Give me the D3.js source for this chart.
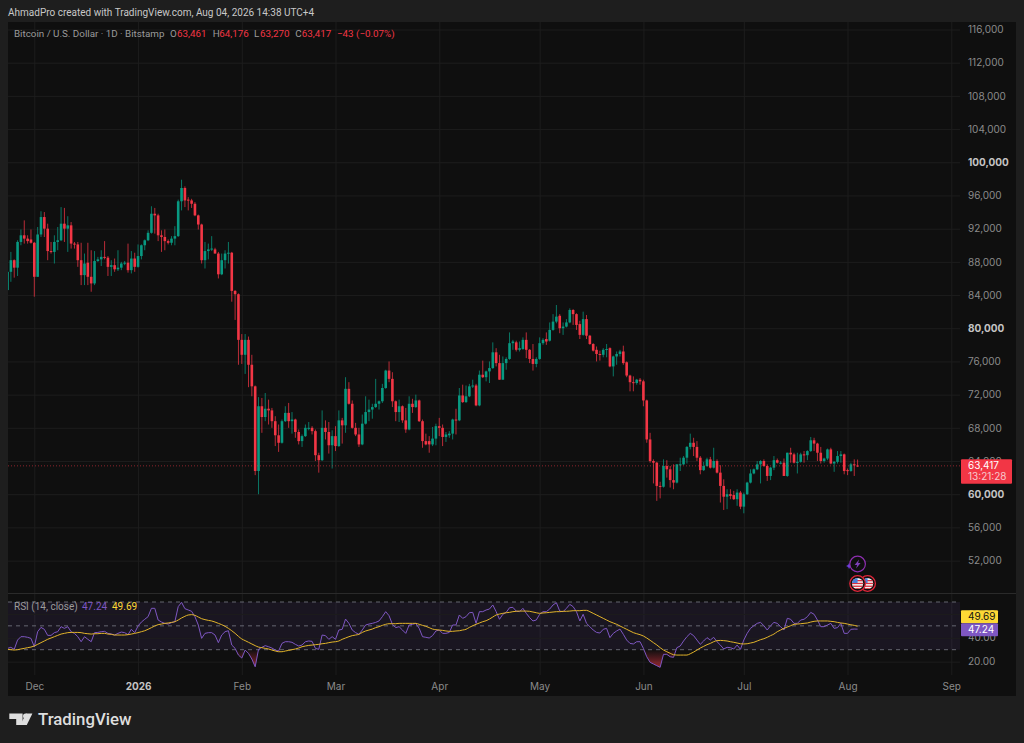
<!DOCTYPE html>
<html>

<head>
    <meta charset="utf-8">
    <style>
        body {
            margin: 0;
            background: #1e1e1e;
            font-family: Inter, 'Noto Sans', sans-serif;
        }

        svg {
            display: block;
        }

        .tick line {
            stroke: #1d1d1d;
        }

        .domain {
            display: none;
        }

        .tick text {
            font-size: 10px;
            font-family: Inter, sans-serif;
            fill: #8b8b8b;
        }

        .tick.major text {
            fill: #c4c4c4;
            font-weight: 700;
        }

        .label {
            font-family: Roboto, sans-serif;
        }
    </style>
</head>

<body>
    <svg width="1024" height="743"></svg>

    <script src="https://d3js.org/d3.v7.min.js"></script>
    <script>
        // BTCUSD daily, prices in thousands, one row = 10 days, first day is Nov 23 2025
        const opens = [
            84.6, 86.8, 88.2, 87.3, 90.4, 91.2, 90.8, 90.7, 90.3, 86.2,
            91.3, 93.4, 92.0, 89.3, 89.2, 90.4, 90.6, 92.6, 92.0, 92.4,
            90.2, 90.1, 88.2, 86.4, 87.9, 86.2, 85.4, 88.1, 88.3, 88.6,
            88.5, 87.4, 87.6, 87.1, 87.3, 87.8, 87.9, 87.0, 88.4, 87.4,
            88.7, 90.0, 90.6, 91.5, 93.8, 93.6, 91.2, 91.0, 90.5, 90.3,
            90.8, 91.1, 95.3, 96.9, 95.5, 95.4, 95.0, 93.6, 92.5, 88.2,
            89.3, 89.5, 89.5, 89.0, 86.5, 88.2, 89.0, 89.1, 84.5, 84.1,
            78.6, 76.8, 78.6, 75.6, 73.0, 62.8, 70.6, 69.3, 70.3, 70.1,
            68.8, 67.1, 66.2, 68.8, 69.8, 68.8, 69.0, 67.5, 66.4, 67.0,
            68.0, 68.0, 67.6, 64.7, 64.1, 68.0, 67.5, 65.9, 67.0, 65.8,
            68.9, 68.3, 72.7, 70.9, 68.0, 67.2, 66.0, 68.5, 69.9, 70.2,
            70.5, 70.9, 71.2, 72.8, 74.9, 73.9, 71.2, 69.9, 70.6, 68.9,
            67.8, 70.9, 70.5, 71.3, 68.8, 66.4, 66.4, 66.0, 66.7, 68.2,
            68.0, 66.9, 67.1, 67.3, 69.0, 68.9, 71.9, 71.1, 71.8, 73.0,
            73.1, 70.7, 74.4, 74.1, 74.8, 75.2, 77.1, 75.8, 73.8, 75.8,
            76.3, 78.2, 78.3, 77.4, 77.5, 78.6, 77.4, 76.3, 75.7, 76.3,
            78.2, 78.7, 78.5, 79.8, 80.8, 81.5, 80.0, 80.2, 80.7, 82.2,
            81.7, 80.5, 79.2, 81.1, 79.1, 78.1, 77.4, 76.9, 76.8, 77.4,
            77.6, 75.4, 76.6, 76.9, 77.2, 75.9, 74.3, 73.5, 73.4, 73.8,
            73.6, 71.3, 66.6, 64.0, 63.8, 61.0, 60.9, 63.4, 63.0, 61.7,
            61.4, 63.6, 63.6, 64.4, 65.7, 66.2, 65.7, 64.4, 62.9, 63.4,
            64.2, 63.2, 64.0, 62.6, 61.0, 59.7, 60.0, 59.9, 59.4, 60.2,
            58.5, 60.0, 61.4, 62.5, 63.0, 63.6, 64.0, 63.4, 62.2, 63.2,
            64.1, 63.8, 63.8, 62.2, 65.0, 64.8, 63.8, 63.9, 64.8, 64.7,
            65.2, 66.5, 66.1, 65.0, 64.0, 64.3, 65.4, 63.7, 63.9, 64.6,
            64.8, 62.9, 62.8, 63.6, 63.461
        ];
        const highs = [
            87.0, 89.2, 88.3, 90.6, 91.9, 93.0, 91.2, 91.9, 90.4, 92.2,
            94.1, 94.0, 92.6, 90.4, 91.2, 92.2, 94.6, 94.5, 93.5, 92.8,
            90.4, 90.4, 90.3, 89.0, 90.3, 89.4, 89.3, 88.6, 89.4, 90.5,
            88.7, 88.2, 88.4, 89.4, 88.0, 88.1, 90.2, 89.3, 89.1, 90.1,
            90.1, 90.7, 91.8, 94.7, 94.5, 93.8, 91.8, 91.9, 90.7, 91.1,
            92.3, 95.5, 97.9, 97.1, 95.8, 95.6, 95.2, 93.7, 92.6, 90.4,
            90.2, 91.1, 89.7, 89.2, 89.0, 89.4, 90.4, 89.2, 84.6, 84.2,
            79.3, 79.3, 79.0, 76.8, 73.1, 71.7, 71.6, 72.2, 71.4, 70.4,
            69.4, 68.4, 69.0, 70.6, 71.0, 69.9, 69.1, 67.8, 67.2, 68.4,
            68.7, 68.2, 67.8, 65.0, 70.1, 68.9, 68.7, 67.7, 68.2, 70.1,
            69.2, 74.1, 73.5, 71.3, 68.6, 68.0, 69.6, 71.8, 71.4, 70.9,
            73.9, 71.3, 73.3, 75.0, 76.0, 74.7, 71.3, 71.4, 70.7, 70.4,
            71.8, 71.5, 72.0, 71.4, 69.0, 67.3, 67.0, 68.1, 68.5, 69.2,
            68.4, 67.5, 67.6, 69.1, 70.3, 72.8, 73.2, 73.1, 73.3, 73.8,
            73.3, 74.9, 76.1, 74.9, 76.0, 78.3, 77.6, 76.8, 76.6, 76.5,
            79.5, 78.6, 78.5, 78.4, 78.9, 79.5, 77.5, 78.1, 76.5, 78.9,
            78.8, 79.5, 80.7, 81.7, 82.8, 81.7, 80.7, 81.1, 82.4, 82.3,
            81.8, 80.9, 82.0, 81.6, 79.2, 78.2, 77.8, 77.3, 77.6, 78.1,
            77.7, 76.7, 77.2, 77.4, 77.9, 76.0, 74.4, 74.2, 73.9, 74.0,
            73.8, 71.4, 67.4, 64.2, 63.9, 61.5, 64.2, 64.1, 63.4, 63.6,
            63.6, 64.4, 64.6, 65.8, 67.3, 66.8, 66.4, 64.6, 63.9, 64.4,
            64.5, 65.6, 64.2, 63.5, 61.8, 60.6, 60.6, 60.4, 60.6, 60.4,
            60.2, 61.5, 63.0, 63.1, 64.0, 64.1, 64.2, 63.6, 63.3, 64.6,
            64.3, 64.0, 64.3, 65.0, 65.6, 65.0, 65.0, 65.0, 65.2, 65.3,
            66.9, 66.8, 66.2, 65.7, 64.4, 65.5, 65.6, 64.0, 65.2, 65.2,
            64.9, 63.1, 63.8, 64.2, 64.176
        ];
        const lows = [
            84.5, 85.6, 86.1, 86.3, 90.0, 90.2, 90.2, 90.2, 83.8, 86.2,
            91.0, 91.0, 88.2, 89.0, 87.8, 89.4, 90.5, 90.4, 89.2, 89.6,
            89.6, 87.4, 85.2, 85.2, 85.2, 84.4, 85.2, 88.0, 87.5, 88.3,
            86.3, 86.3, 86.8, 86.9, 87.0, 87.6, 86.7, 86.6, 86.8, 87.3,
            88.3, 89.4, 90.5, 91.4, 91.4, 90.5, 89.2, 89.4, 90.1, 90.0,
            90.0, 91.0, 94.2, 94.6, 94.2, 94.5, 93.5, 91.9, 87.8, 87.2,
            88.3, 89.3, 89.0, 86.0, 86.4, 87.2, 87.8, 83.2, 81.0, 75.6,
            75.7, 74.5, 72.9, 71.8, 62.3, 60.0, 67.4, 68.8, 68.4, 68.0,
            65.8, 65.1, 66.1, 68.7, 68.0, 67.3, 66.8, 66.0, 65.7, 66.9,
            67.7, 67.2, 64.0, 62.6, 64.0, 66.6, 64.9, 63.1, 65.2, 65.7,
            66.1, 67.4, 70.8, 67.9, 67.0, 65.7, 65.9, 68.4, 68.8, 69.1,
            70.4, 70.2, 71.0, 72.7, 73.5, 70.5, 68.8, 68.7, 68.6, 67.4,
            67.7, 69.8, 70.4, 68.7, 65.6, 65.9, 65.0, 65.8, 65.9, 67.0,
            65.8, 66.3, 66.8, 66.6, 67.2, 68.8, 71.0, 71.0, 71.7, 72.8,
            70.6, 70.6, 74.0, 73.6, 73.4, 75.1, 75.4, 73.8, 73.8, 75.0,
            76.2, 77.4, 77.2, 77.2, 77.4, 76.4, 75.8, 74.9, 75.3, 76.2,
            78.0, 78.0, 78.4, 79.7, 80.6, 79.4, 79.2, 80.1, 80.6, 80.4,
            79.8, 78.7, 79.1, 78.7, 78.0, 77.2, 76.0, 76.1, 76.5, 76.5,
            75.3, 74.2, 75.6, 76.6, 75.6, 74.1, 72.4, 72.4, 73.2, 73.2,
            70.6, 66.2, 63.8, 61.3, 59.2, 59.5, 60.8, 62.0, 60.8, 60.6,
            61.3, 62.8, 63.5, 63.7, 65.4, 64.6, 64.0, 62.4, 62.8, 63.3,
            63.1, 63.1, 62.5, 59.0, 58.1, 58.2, 59.4, 59.3, 58.6, 58.2,
            57.7, 59.9, 61.3, 62.4, 62.9, 61.3, 63.3, 61.6, 61.7, 62.9,
            63.7, 63.6, 62.2, 62.1, 63.8, 63.7, 62.5, 63.8, 63.8, 64.1,
            65.1, 65.2, 64.0, 63.7, 63.8, 64.1, 63.6, 62.7, 63.7, 63.8,
            62.4, 62.3, 62.7, 62.2, 63.27
        ];
        const closes = [
            86.8, 88.2, 87.3, 90.4, 91.2, 90.8, 90.5, 90.3, 86.2, 91.3,
            93.4, 92.0, 89.3, 89.2, 90.4, 90.6, 92.6, 92.0, 92.4, 90.2,
            90.1, 88.2, 86.4, 87.8, 86.2, 85.4, 88.1, 88.3, 88.6, 88.5,
            87.4, 87.6, 87.1, 87.3, 87.8, 87.9, 87.0, 88.4, 87.4, 88.7,
            90.0, 90.6, 91.5, 93.8, 93.6, 91.2, 91.0, 90.5, 90.3, 90.8,
            91.1, 95.3, 96.9, 95.4, 95.4, 95.0, 93.6, 92.5, 88.2, 89.3,
            89.5, 89.6, 89.0, 86.5, 88.2, 89.0, 89.1, 84.5, 84.1, 78.6,
            76.8, 78.6, 75.6, 73.0, 62.8, 70.6, 69.3, 70.3, 70.1, 68.8,
            67.1, 66.2, 68.8, 69.8, 68.8, 69.0, 67.5, 66.4, 67.0, 68.0,
            68.0, 67.6, 64.7, 64.1, 68.0, 67.5, 65.9, 67.0, 65.8, 68.9,
            68.3, 72.7, 70.9, 68.0, 67.2, 66.0, 68.5, 69.9, 70.2, 70.5,
            70.9, 71.2, 72.8, 74.9, 73.9, 71.2, 69.9, 70.6, 68.9, 67.8,
            70.9, 70.5, 71.3, 68.8, 66.4, 66.0, 66.0, 66.7, 68.2, 68.0,
            66.9, 67.2, 67.3, 69.0, 68.9, 71.9, 71.1, 71.8, 73.0, 73.1,
            70.7, 74.4, 74.1, 74.8, 75.2, 77.1, 75.8, 73.8, 75.8, 76.3,
            78.2, 78.4, 77.4, 77.6, 78.6, 77.4, 76.3, 75.7, 76.3, 78.2,
            78.6, 78.4, 79.8, 80.8, 81.4, 80.0, 80.2, 80.7, 82.2, 81.7,
            80.4, 79.2, 81.1, 79.1, 78.1, 77.3, 76.9, 76.8, 77.4, 77.5,
            75.4, 76.6, 76.9, 77.2, 75.8, 74.3, 73.5, 73.4, 73.8, 73.6,
            71.3, 66.6, 64.0, 63.8, 61.0, 60.9, 63.4, 63.0, 61.7, 61.4,
            63.6, 63.6, 64.4, 65.7, 66.2, 65.7, 64.4, 62.9, 63.4, 64.2,
            63.2, 64.0, 62.6, 61.0, 59.7, 60.0, 59.8, 59.4, 60.2, 58.5,
            60.0, 61.4, 62.5, 63.0, 63.6, 64.0, 63.4, 62.2, 63.2, 64.1,
            63.8, 63.8, 62.2, 65.0, 64.8, 63.8, 63.9, 64.8, 64.7, 65.2,
            66.5, 66.1, 65.0, 64.0, 64.3, 65.4, 63.7, 63.9, 64.6, 64.8,
            62.8, 62.8, 63.6, 63.5, 63.417
        ];
        const rsi = [
            31.1, 32.0, 30.3, 38.1, 40.9, 40.9, 40.4, 39.5, 32.5, 45.1,
            48.7, 47.1, 42.0, 42.0, 44.3, 45.1, 49.3, 47.9, 49.3, 45.1,
            43.7, 40.9, 36.7, 40.9, 38.7, 36.7, 44.3, 44.5, 45.1, 45.4,
            43.7, 43.2, 42.3, 43.7, 44.8, 44.3, 42.6, 47.1, 44.3, 49.9,
            53.2, 55.5, 57.7, 64.7, 64.7, 54.9, 53.2, 52.1, 51.5, 52.7,
            53.5, 66.1, 69.7, 64.4, 63.3, 62.2, 57.7, 50.7, 39.5, 43.7,
            44.3, 44.3, 42.3, 35.9, 42.3, 45.1, 45.9, 33.9, 31.1, 25.5,
            23.0, 29.7, 26.9, 22.2, 15.7, 30.3, 32.0, 33.4, 32.5, 31.4,
            29.7, 28.9, 35.3, 36.7, 36.7, 36.2, 34.5, 33.1, 33.9, 36.7,
            37.3, 37.0, 31.1, 30.3, 42.3, 41.8, 38.7, 40.9, 38.7, 46.5,
            47.1, 55.7, 52.1, 46.5, 44.3, 42.9, 46.5, 50.7, 51.5, 52.1,
            52.9, 54.1, 57.7, 61.9, 58.5, 51.3, 48.5, 49.3, 46.5, 43.7,
            50.7, 51.3, 52.1, 47.9, 40.9, 40.4, 39.8, 41.8, 45.7, 46.5,
            43.7, 43.7, 44.5, 50.7, 50.7, 59.1, 56.3, 57.7, 61.0, 61.3,
            52.1, 61.9, 61.9, 63.3, 64.1, 67.5, 61.9, 55.5, 59.7, 61.3,
            65.2, 65.5, 62.4, 61.9, 64.7, 60.5, 56.9, 54.1, 54.9, 59.7,
            61.9, 61.9, 64.1, 67.5, 69.4, 62.4, 61.9, 64.7, 68.0, 66.1,
            61.9, 54.1, 59.7, 52.1, 49.3, 46.5, 44.5, 44.0, 47.1, 47.9,
            40.1, 43.7, 45.7, 47.3, 42.9, 38.1, 35.3, 34.8, 36.7, 36.7,
            31.1, 24.1, 19.4, 18.0, 16.6, 15.2, 26.1, 26.1, 24.1, 23.6,
            31.7, 33.1, 37.3, 40.9, 43.7, 41.8, 38.1, 34.5, 37.3, 40.1,
            38.1, 40.4, 36.7, 33.9, 30.6, 32.0, 31.7, 30.6, 33.9, 30.3,
            38.1, 43.7, 47.9, 50.1, 52.1, 52.9, 50.1, 46.5, 50.1, 52.9,
            52.1, 49.3, 46.5, 56.3, 55.5, 52.1, 52.1, 54.9, 55.5, 57.7,
            61.3, 59.7, 54.9, 49.3, 49.3, 50.7, 52.1, 47.9, 48.5, 52.1,
            43.7, 43.7, 47.1, 47.3, 47.24
        ];
        const rsiMa = [
            30.3, 30.0, 29.7, 30.0, 30.6, 31.1, 31.7, 32.2, 33.1, 34.5,
            35.9, 37.3, 38.7, 39.8, 40.9, 42.0, 43.1, 43.7, 44.3, 44.5,
            44.5, 44.5, 44.3, 43.7, 43.4, 43.1, 43.4, 43.4, 43.7, 43.7,
            43.1, 42.9, 42.3, 42.3, 42.3, 42.3, 42.6, 43.1, 43.7, 44.3,
            45.1, 45.9, 47.1, 48.5, 49.9, 51.0, 51.5, 52.1, 52.4, 52.9,
            53.5, 54.9, 56.6, 58.0, 59.1, 59.4, 58.8, 57.4, 56.0, 55.2,
            54.6, 54.1, 53.2, 52.1, 51.0, 49.6, 47.9, 45.9, 43.7, 41.2,
            39.0, 37.6, 36.2, 34.8, 33.4, 32.2, 31.7, 31.1, 30.6, 29.7,
            28.9, 28.3, 28.3, 28.9, 29.4, 30.0, 30.6, 31.4, 32.5, 33.1,
            33.6, 33.9, 34.2, 34.5, 35.0, 35.3, 35.9, 36.4, 36.7, 37.3,
            38.7, 39.8, 40.9, 41.8, 42.3, 42.9, 44.5, 45.7, 46.5, 47.3,
            48.5, 49.3, 50.4, 51.3, 51.8, 51.8, 51.8, 52.1, 52.1, 52.1,
            52.1, 52.1, 52.1, 51.3, 50.4, 49.6, 48.5, 47.3, 46.8, 46.5,
            46.2, 45.7, 45.4, 45.4, 45.7, 45.9, 46.5, 47.1, 48.7, 50.1,
            51.3, 52.4, 53.5, 54.3, 55.7, 57.4, 59.1, 59.9, 60.5, 61.0,
            61.3, 61.9, 62.2, 62.4, 62.4, 62.4, 62.2, 61.6, 61.0, 60.5,
            60.8, 61.0, 61.3, 61.6, 61.9, 61.9, 62.2, 62.2, 62.4, 62.7,
            62.7, 62.7, 63.0, 63.0, 61.9, 60.5, 59.1, 57.7, 56.3, 54.9,
            53.5, 52.4, 51.3, 49.9, 48.5, 47.1, 45.7, 44.3, 43.4, 42.6,
            41.5, 39.8, 37.9, 35.9, 34.0, 31.7, 29.7, 28.3, 27.0, 25.8,
            25.5, 25.5, 25.5, 25.5, 26.6, 28.0, 29.7, 31.4, 32.8, 34.2,
            35.3, 36.7, 37.6, 37.8, 37.6, 37.3, 36.7, 36.2, 35.6, 35.0,
            34.8, 35.0, 35.6, 36.2, 37.3, 38.4, 39.2, 40.4, 41.8, 43.1,
            45.1, 46.5, 47.9, 49.0, 50.1, 51.3, 51.5, 51.8, 52.1, 52.4,
            53.2, 53.8, 54.1, 54.1, 54.1, 54.1, 53.8, 53.5, 52.9, 52.4,
            52.1, 51.5, 50.9, 50.4, 49.69
        ];

        const priceTicks = [116, 112, 108, 104, 100, 96, 92, 88, 84, 80, 76, 72, 68, 64, 60, 56, 52];
        const boldPrices = [100, 80, 60];
        const rsiTicks = [60, 40, 20];
        const rsiBands = [70, 50, 30];
        const monthLabels = ["Dec", "2026", "Feb", "Mar", "Apr", "May", "Jun", "Jul", "Aug", "Sep"];
        const monthStarts = [
            Date.UTC(2025, 11, 1), Date.UTC(2026, 0, 1), Date.UTC(2026, 1, 1), Date.UTC(2026, 2, 1), Date.UTC(2026, 3, 1),
            Date.UTC(2026, 4, 1), Date.UTC(2026, 5, 1), Date.UTC(2026, 6, 1), Date.UTC(2026, 7, 1), Date.UTC(2026, 8, 1)
        ].map(d => new Date(d));

        let days = d3.utcDay.range(new Date(Date.UTC(2025, 10, 23)), new Date(Date.UTC(2026, 7, 5)));

        let candles = days.map(function (d, i) {
            return { date: d, open: opens[i], high: highs[i], low: lows[i], close: closes[i], rsi: rsi[i], ma: rsiMa[i] };
        });

        const upColor = "#089981";
        const downColor = "#f23645";

        let paneLeft = 8, plotRight = 960, frameRight = 1016, paneTop = 22, frameBottom = 696;

        let svg = d3.select("svg");

        svg.append("rect").attr("x", paneLeft).attr("y", paneTop)
            .attr("width", frameRight - paneLeft).attr("height", frameBottom - paneTop).attr("fill", "#0f0f0f");

        let x = d3.scaleUtc()
            .domain([monthStarts[0], monthStarts[9]])
            .range([34.3, 951.3]);

        let y = d3.scaleLinear()
            .domain([116, 52])
            .range([29.5, 560.6]);

        let yRsi = d3.scaleLinear()
            .domain([70, 30])
            .range([602, 649.7]);

        // time axis carries the vertical grid
        svg.append("g")
            .attr("class", "x axis")
            .attr("transform", "translate(0,675)")
            .call(d3.axisBottom(x)
                .tickValues(monthStarts)
                .tickSizeInner(-653)
                .tickSizeOuter(0)
                .tickPadding(8)
                .tickFormat(function (d, i) { return monthLabels[i] }))
            .call(g => g.selectAll(".tick").filter((d, i) => i == 1).classed("major", true));

        // price axis
        svg.append("g")
            .attr("class", "y axis")
            .attr("transform", `translate(${plotRight},0)`)
            .call(d3.axisRight(y)
                .tickValues(priceTicks)
                .tickSizeInner(-(plotRight - paneLeft))
                .tickSizeOuter(0)
                .tickPadding(8)
                .tickFormat(function (d) { return d3.format(",")(d * 1000) }))
            .call(g => g.selectAll(".tick").filter(d => boldPrices.includes(d)).classed("major", true));

        // pane separator
        svg.append("line")
            .attr("x1", paneLeft).attr("x2", frameRight)
            .attr("y1", 593.5).attr("y2", 593.5)
            .attr("stroke", "#2a2a2a");

        // candles, clipped at the left edge of the pane
        svg.append("clipPath").attr("id", "plot")
            .append("rect").attr("x", paneLeft).attr("y", paneTop).attr("width", plotRight - paneLeft).attr("height", frameBottom - paneTop);

        let candleG = svg.append("g").attr("clip-path", "url(#plot)");

        candleG.selectAll(".wick")
            .data(candles)
            .join("rect")
            .attr("class", "wick")
            .attr("x", d => x(d.date) - 0.5)
            .attr("width", 1)
            .attr("y", d => y(d.high))
            .attr("height", d => y(d.low) - y(d.high))
            .attr("fill", d => d.close >= d.open ? upColor : downColor)
            .attr("fill-opacity", 0.75);

        candleG.selectAll(".body")
            .data(candles)
            .join("rect")
            .attr("class", "body")
            .attr("x", d => x(d.date) - 1.3)
            .attr("width", 2.6)
            .attr("y", d => y(Math.max(d.open, d.close)))
            .attr("height", d => Math.max(1, Math.abs(y(d.open) - y(d.close))))
            .attr("fill", d => d.close >= d.open ? upColor : downColor);

        // last price line
        svg.append("line")
            .attr("x1", paneLeft).attr("x2", plotRight)
            .attr("y1", y(closes[closes.length - 1])).attr("y2", y(closes[closes.length - 1]))
            .attr("stroke", downColor)
            .attr("stroke-opacity", 0.55)
            .attr("stroke-dasharray", "1 2");

        // rsi pane
        svg.append("rect")
            .attr("x", paneLeft).attr("width", plotRight - paneLeft)
            .attr("y", yRsi(70)).attr("height", yRsi(30) - yRsi(70))
            .attr("fill", "#7e57c2").attr("fill-opacity", 0.1);

        svg.append("g")
            .attr("class", "y axis")
            .attr("transform", `translate(${plotRight},0)`)
            .call(d3.axisRight(yRsi)
                .tickValues(rsiTicks)
                .tickSizeInner(-(plotRight - paneLeft))
                .tickSizeOuter(0)
                .tickPadding(8)
                .tickFormat(d3.format(".2f")));

        svg.append("g")
            .selectAll("line")
            .data(rsiBands)
            .join("line")
            .attr("x1", paneLeft).attr("x2", plotRight)
            .attr("y1", d => yRsi(d)).attr("y2", d => yRsi(d))
            .attr("stroke", "#787b86")
            .attr("stroke-opacity", 0.8)
            .attr("stroke-dasharray", "4 4");

        let defs = svg.append("defs");
        let grad = defs.append("linearGradient").attr("id", "oversold")
            .attr("gradientUnits", "userSpaceOnUse")
            .attr("x1", 0).attr("x2", 0).attr("y1", yRsi(30)).attr("y2", yRsi(15));
        grad.append("stop").attr("offset", 0).attr("stop-color", downColor).attr("stop-opacity", 0);
        grad.append("stop").attr("offset", 1).attr("stop-color", downColor).attr("stop-opacity", 0.6);

        defs.append("clipPath").attr("id", "below30")
            .append("rect").attr("x", paneLeft).attr("width", plotRight - paneLeft).attr("y", yRsi(30)).attr("height", 40);

        let rsiArea = d3.area()
            .x(d => x(d.date))
            .y0(yRsi(30))
            .y1(d => yRsi(d.rsi));

        svg.append("path")
            .attr("d", rsiArea(candles))
            .attr("clip-path", "url(#below30)")
            .attr("fill", "url(#oversold)");

        let rsiLine = d3.line().x(d => x(d.date)).y(d => yRsi(d.rsi));
        let maLine = d3.line().x(d => x(d.date)).y(d => yRsi(d.ma)).curve(d3.curveMonotoneX);

        svg.append("g").attr("clip-path", "url(#plot)")
            .append("path").attr("d", rsiLine(candles))
            .attr("fill", "none").attr("stroke", "#7e57c2").attr("stroke-width", 1);

        svg.append("g").attr("clip-path", "url(#plot)")
            .append("path").attr("d", maLine(candles))
            .attr("fill", "none").attr("stroke", "#e2b42a").attr("stroke-width", 1);

        // axis tags on the right
        function tag(yTop, h, fill, lines, color) {
            svg.append("rect").attr("x", 961).attr("y", yTop).attr("width", lines.w).attr("height", h).attr("fill", fill).attr("rx", 1);
            lines.text.forEach(function (t, i) {
                svg.append("text").attr("x", 968).attr("y", yTop + 9.5 + i * 11.5)
                    .attr("font-size", 10).attr("fill", i == 0 ? color : "#f7c9cd").text(t);
            });
        }
        let lastY = y(closes[closes.length - 1]);
        tag(lastY - 6.5, 24.5, downColor, { w: 51, text: ["63,417", "13:21:28"] }, "#ffffff");
        tag(yRsi(49.69) - 16, 13, "#fdd835", { w: 37, text: ["49.69"] }, "#131313");
        tag(yRsi(49.69) - 3, 13, "#7e57c2", { w: 37, text: ["47.24"] }, "#ffffff");

        // header and legend
        svg.append("text").attr("class", "label").attr("x", 8).attr("y", 15.5)
            .attr("font-size", 10).attr("fill", "#c8c8c8")
            .text("AhmadPro created with TradingView.com, Aug 04, 2026 14:38 UTC+4");

        let legend = svg.append("text").attr("class", "label").attr("y", 36.5).attr("font-size", 9.8).attr("fill", "#9b9b9b");
        legend.append("tspan").attr("x", 14).text("Bitcoin / U.S. Dollar · 1D · Bitstamp");
        [["O", "63,461", 170, 177], ["H", "64,176", 212.7, 219.3], ["L", "63,270", 254, 260], ["C", "63,417", 295.3, 301.8]].forEach(function (p) {
            legend.append("tspan").attr("x", p[2]).text(p[0]);
            legend.append("tspan").attr("x", p[3]).attr("fill", downColor).text(p[1]);
        });
        legend.append("tspan").attr("x", 337).attr("fill", downColor).text("−43 (−0.07%)");

        svg.append("text").attr("class", "label").attr("x", 14).attr("y", 610).attr("font-size", 10).attr("fill", "#9b9b9b").text("RSI (14, close)");
        svg.append("text").attr("class", "label").attr("x", 82).attr("y", 610).attr("font-size", 10).attr("fill", "#7e57c2").text("47.24");
        svg.append("text").attr("class", "label").attr("x", 112).attr("y", 610).attr("font-size", 10).attr("fill", "#fdd835").text("49.69");

        // event badges over the last days
        let badgeX = x(days[days.length - 1]);
        let bolt = svg.append("g").attr("transform", `translate(${badgeX},564)`);
        bolt.append("path").attr("d", "M-8.5,-2.5 L-7.5,-0.5 L-5.5,0.5 L-7.5,1.5 L-8.5,3.5 L-9.5,1.5 L-11.5,0.5 L-9.5,-0.5 Z").attr("transform", "translate(0,1.5)").attr("fill", "#6d3fe0");
        bolt.append("circle").attr("r", 7.8).attr("fill", "#0f0f0f").attr("stroke", "#8e2fb0").attr("stroke-width", 1.2);
        bolt.append("path").attr("d", "M1.5,-4.5 L-3,1 H-0.5 L-1.5,4.5 L3,-1 H0.5 Z").attr("fill", "#7e3fb8");

        [10, 0].forEach(function (dx) {
            let b = svg.append("g").attr("transform", `translate(${badgeX + dx},583.5)`);
            b.append("circle").attr("r", 7.8).attr("fill", "#0f0f0f").attr("stroke", "#e0263a").attr("stroke-width", 1.3);
            b.append("circle").attr("r", 5.6).attr("fill", "#f4f4f4");
            b.append("clipPath").attr("id", "flag" + dx).append("circle").attr("r", 5.6);
            let flag = b.append("g").attr("clip-path", `url(#flag${dx})`);
            [-3.5, -0.7, 2.1, 4.6].forEach(function (s) {
                flag.append("rect").attr("x", -6).attr("y", s).attr("width", 12).attr("height", 1.3).attr("fill", "#d8303f");
            });
            flag.append("rect").attr("x", -6).attr("y", -6).attr("width", 6).attr("height", 5.5).attr("fill", "#4a80d8");
        });

        // footer logo
        let logo = svg.append("g").attr("fill", "#dedede");
        logo.append("path").attr("d", "M9.3,713.4 H22.6 V725 H16.2 V719 H9.3 Z");
        logo.append("circle").attr("cx", 25.6).attr("cy", 716).attr("r", 2.6);
        logo.append("path").attr("d", "M32.4,713.4 L26.8,725 H20.4 L26,713.4 Z");
        logo.append("text").attr("class", "label").attr("x", 38).attr("y", 725.2)
            .attr("font-size", 16.8).attr("font-weight", 500)
            .text("TradingView");
    </script>
</body>

</html>
